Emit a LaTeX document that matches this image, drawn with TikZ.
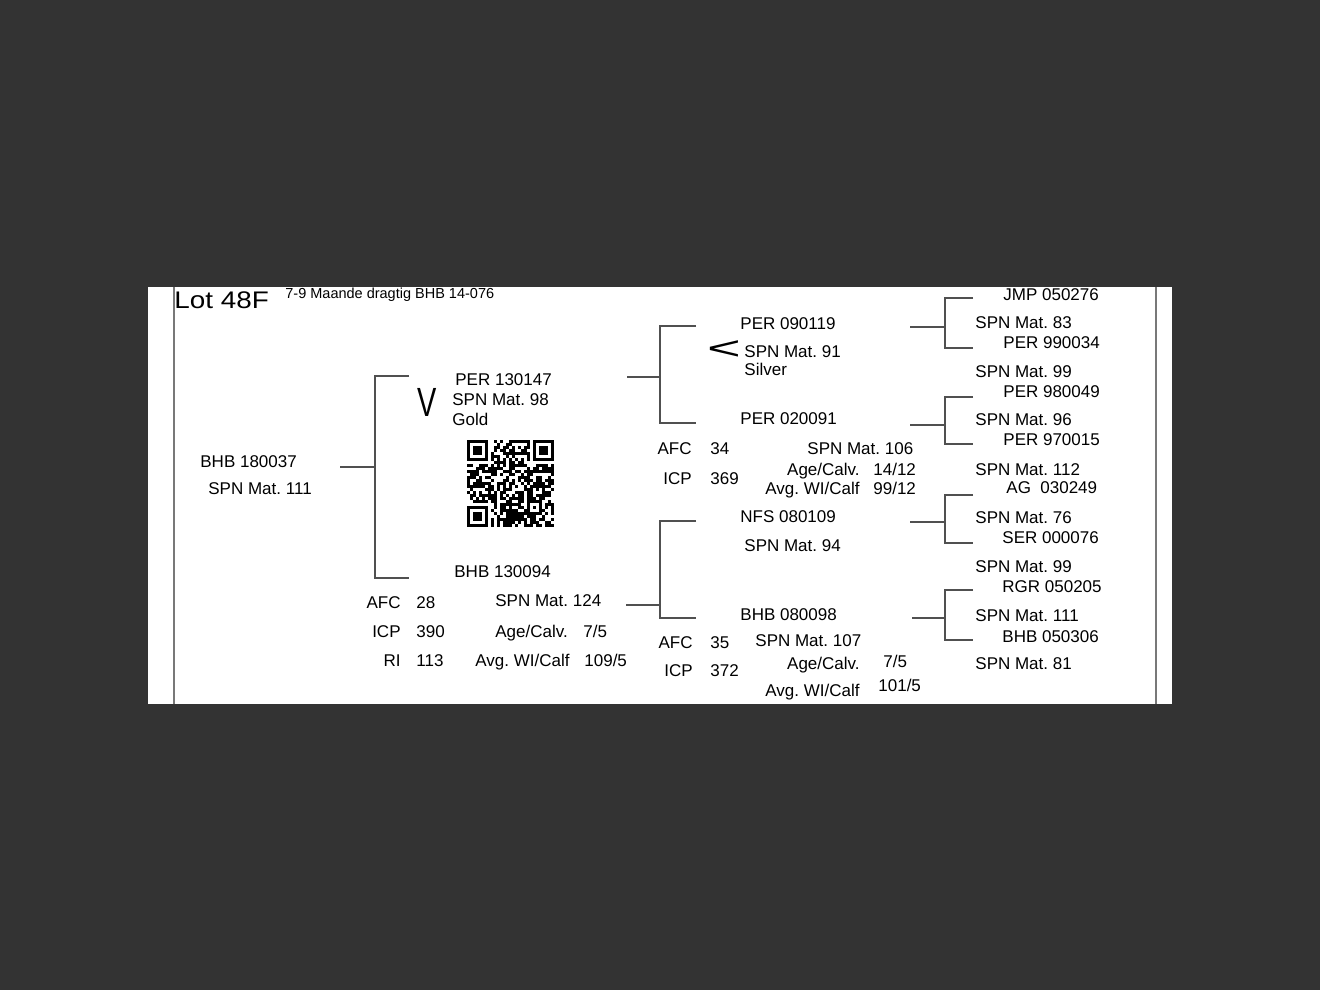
\documentclass[tikz,border=0pt]{standalone}
\usepackage{fontspec}
\setmainfont{Liberation Sans}
\frenchspacing
\definecolor{bgdark}{RGB}{51,51,51}
\definecolor{linegray}{RGB}{80,80,80}
\definecolor{bordergray}{RGB}{120,120,120}
\tikzset{
  txt/.style={anchor=base west, inner sep=0pt, font=\fontsize{8.5}{10}\selectfont},
  rtxt/.style={txt, anchor=base east},
  conn/.style={draw=linegray, line width=0.6pt},
  border/.style={draw=bordergray, line width=1pt},
  qrmod/.style={fill=black},
}
\newcommand\pedbracket[7]{%
  \coordinate (#1-in) at (#2,#3);
  \coordinate (#1-j) at (#4,#3);
  \coordinate (#1-t) at (#4,#5);
  \coordinate (#1-b) at (#4,#6);
  \coordinate (#1-to) at (#7,#5);
  \coordinate (#1-bo) at (#7,#6);
  \draw[conn] (#1-in) -- (#1-j);
  \draw[conn] (#1-to) -- (#1-t) -- (#1-b) -- (#1-bo);
}
\newcommand\qrfinder[2]{%
  \fill[black] (#1,#2) rectangle +(21,21);
  \fill[white] (#1+3,#2+3) rectangle +(15,15);
  \fill[black] (#1+6,#2+6) rectangle +(9,9);
}
\begin{document}
\begin{tikzpicture}[x=0.5pt,y=-0.5pt]
\useasboundingbox (0,0) rectangle (1320,990);
\fill[bgdark] (0,0) rectangle (1320,990);
\fill[white] (148,287) rectangle (1172,704);
\draw[border] (174,287) -- (174,704);
\draw[border] (1156,287) -- (1156,704);

% title
\node[txt, font=\fontsize{12}{14}\selectfont] (lot) at (174,308) {\scalebox{1.16}[1]{Lot 48F}};
\node[txt, font=\fontsize{7.25}{9}\selectfont] (sub) at (285,298) {7-9 Maande dragtig BHB 14-076};

% brackets
\pedbracket{A}{340}{467}{375}{376}{578}{409}
\pedbracket{B}{627}{377}{660}{326}{423}{696}
\pedbracket{C}{626}{605}{660}{521}{618}{696}
\pedbracket{D}{910}{327}{945}{298}{348}{973}
\pedbracket{E}{910}{425}{945}{397}{444}{973}
\pedbracket{F}{910}{522}{945}{495}{543}{973}
\pedbracket{G}{912}{618}{945}{590}{640}{973}

% root
\node[txt] (r1) at (200,467) {BHB 180037};
\node[txt] (r2) at (208,494) {SPN Mat. 111};

% sire
\node[inner sep=0pt, font=\fontsize{8.5}{10}\selectfont] (vmark) at (427,402.5) {\scalebox{1.7}[2.4]{V}};
\node[txt] (s1) at (455,385) {PER 130147};
\node[txt] (s2) at (452,405) {SPN Mat. 98};
\node[txt] (s3) at (452,425) {Gold};

% QR code
\begin{scope}[shift={(467,440)}]
  \pgfmathsetseed{4817}
  \foreach \i in {0,...,28}{
    \foreach \j in {0,...,28}{
      \pgfmathtruncatemacro{\qrskip}{((\i<8)&&(\j<8))||((\i>20)&&(\j<8))||((\i<8)&&(\j>20))||((\i>19)&&(\i<25)&&(\j>19)&&(\j<25))||(\i==6)||(\j==6)}
      \ifnum\qrskip=0
        \pgfmathrandominteger{\qrr}{0}{9}
        \ifnum\qrr>3 \fill[qrmod] (3*\i,3*\j) rectangle +(3,3); \fi
      \fi
    }
  }
  \foreach \k in {8,10,...,20}{
    \fill[qrmod] (3*\k,18) rectangle +(3,3);
    \fill[qrmod] (18,3*\k) rectangle +(3,3);
  }
  \qrfinder{0}{0}
  \qrfinder{66}{0}
  \qrfinder{0}{66}
  \fill[black] (60,60) rectangle +(15,15);
  \fill[white] (63,63) rectangle +(9,9);
  \fill[black] (66,66) rectangle +(3,3);
\end{scope}

% dam
\node[txt] (d1) at (454,577) {BHB 130094};
\node[rtxt] (dafc) at (401,608) {AFC};
\node[txt] (dafcv) at (416,608) {28};
\node[rtxt] (dicp) at (401,637) {ICP};
\node[txt] (dicpv) at (416,637) {390};
\node[rtxt] (dri) at (401,666) {RI};
\node[txt] (driv) at (416,666) {113};
\node[txt] (d2) at (495,606) {SPN Mat. 124};
\node[txt] (d3) at (495,637) {Age/Calv.};
\node[txt] (d3v) at (583,637) {7/5};
\node[txt] (d4) at (475,666) {Avg. WI/Calf};
\node[txt] (d4v) at (584,666) {109/5};

% sire's parents
\node[txt] (ss1) at (740,329) {PER 090119};
\node[inner sep=0pt, font=\fontsize{8.5}{10}\selectfont] (ltmark) at (724,350) {\scalebox{3.4}[1.9]{<}};
\node[txt] (ss2) at (744,357) {SPN Mat. 91};
\node[txt] (ss3) at (744,375) {Silver};
\node[txt] (sd1) at (740,424) {PER 020091};
\node[rtxt] (sdafc) at (692,454) {AFC};
\node[txt] (sdafcv) at (710,454) {34};
\node[rtxt] (sdicp) at (692,484) {ICP};
\node[txt] (sdicpv) at (710,484) {369};
\node[txt] (sd2) at (807,454) {SPN Mat. 106};
\node[rtxt] (sd3) at (860,475) {Age/Calv.};
\node[txt] (sd3v) at (873,475) {14/12};
\node[rtxt] (sd4) at (860,494) {Avg. WI/Calf};
\node[txt] (sd4v) at (873,494) {99/12};

% dam's parents
\node[txt] (ds1) at (740,522) {NFS 080109};
\node[txt] (ds2) at (744,551) {SPN Mat. 94};
\node[txt] (dd1) at (740,620) {BHB 080098};
\node[rtxt] (ddafc) at (693,648) {AFC};
\node[txt] (ddafcv) at (710,648) {35};
\node[rtxt] (ddicp) at (693,676) {ICP};
\node[txt] (ddicpv) at (710,676) {372};
\node[txt] (dd2) at (755,646) {SPN Mat. 107};
\node[rtxt] (dd3) at (860,669) {Age/Calv.};
\node[txt] (dd3v) at (883,667) {7/5};
\node[rtxt] (dd4) at (860,696) {Avg. WI/Calf};
\node[txt] (dd4v) at (878,691) {101/5};

% great-grandparents
\node[txt] (g1) at (1003,300) {JMP 050276};
\node[txt] (g1m) at (975,328) {SPN Mat. 83};
\node[txt] (g2) at (1003,348) {PER 990034};
\node[txt] (g2m) at (975,377) {SPN Mat. 99};
\node[txt] (g3) at (1003,397) {PER 980049};
\node[txt] (g3m) at (975,425) {SPN Mat. 96};
\node[txt] (g4) at (1003,445) {PER 970015};
\node[txt] (g4m) at (975,475) {SPN Mat. 112};
\node[txt] (g5) at (1006,493) {AG\ \ 030249};
\node[txt] (g5m) at (975,523) {SPN Mat. 76};
\node[txt] (g6) at (1002,543) {SER 000076};
\node[txt] (g6m) at (975,572) {SPN Mat. 99};
\node[txt] (g7) at (1002,592) {RGR 050205};
\node[txt] (g7m) at (975,621) {SPN Mat. 111};
\node[txt] (g8) at (1002,642) {BHB 050306};
\node[txt] (g8m) at (975,669) {SPN Mat. 81};
\end{tikzpicture}
\end{document}
